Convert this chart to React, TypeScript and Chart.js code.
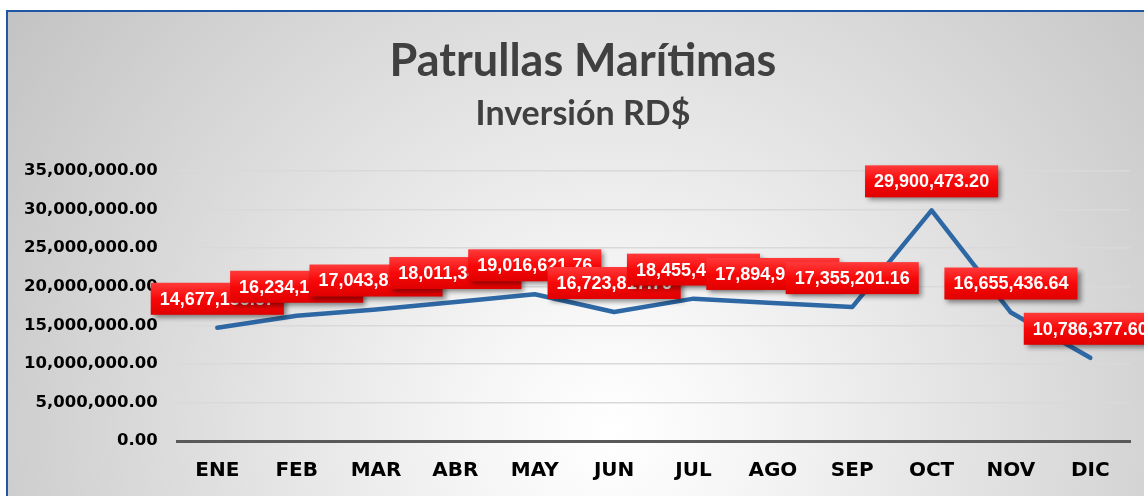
import React, { useEffect, useRef } from "react";
import { Chart, registerables } from "chart.js";

Chart.register(...registerables);

const months = ["ENE", "FEB", "MAR", "ABR", "MAY", "JUN", "JUL", "AGO", "SEP", "OCT", "NOV", "DIC"];
const inversion = [
  14677155.67, 16234150.32, 17043812.45, 18011345.2, 19016621.76, 16723817.76,
  18455410.88, 17894925.4, 17355201.16, 29900473.2, 16655436.64, 10786377.6,
];
const titleText = "Patrullas Marítimas";
const subtitleText = "Inversión RD$";
const yMax = 35000000;
const yStep = 5000000;

const fmt = (v: number) =>
  v.toLocaleString("en-US", { minimumFractionDigits: 2, maximumFractionDigits: 2 });

const titlePlugin = {
  id: "customTitles",
  beforeDraw(chart: any) {
    const ctx = chart.ctx;
    ctx.save();
    ctx.fillStyle = "#404040";
    ctx.textAlign = "center";
    ctx.textBaseline = "middle";
    ctx.font = "bold 45px Lato";
    ctx.fillText(titleText, 583, 61);
    ctx.font = "bold 34px Lato";
    ctx.fillText(subtitleText, 583, 114);
    ctx.restore();
  },
};

const labelPlugin = {
  id: "redLabels",
  afterDatasetsDraw(chart: any) {
    const ctx = chart.ctx;
    const meta = chart.getDatasetMeta(0);
    ctx.save();
    ctx.font = "bold 18px 'Liberation Sans', Arial";
    meta.data.forEach((pt: any, i: number) => {
      const text = fmt(inversion[i]);
      const tw = ctx.measureText(text).width;
      const w = tw + 18;
      const h = 32;
      const x0 = pt.x - w / 2;
      const y1 = pt.y - 13;
      const y0 = y1 - h;
      const g = ctx.createLinearGradient(0, y0, 0, y1);
      g.addColorStop(0, "#ff3a3a");
      g.addColorStop(0.5, "#f80808");
      g.addColorStop(1, "#e00000");
      ctx.save();
      ctx.shadowColor = "rgba(0,0,0,0.45)";
      ctx.shadowBlur = 5;
      ctx.shadowOffsetX = 3;
      ctx.shadowOffsetY = 3;
      ctx.fillStyle = g;
      ctx.fillRect(x0, y0, w, h);
      ctx.restore();
      ctx.fillStyle = "#ffffff";
      ctx.textAlign = "center";
      ctx.textBaseline = "middle";
      ctx.fillText(text, pt.x, y0 + h / 2 + 1);
    });
    ctx.restore();
  },
};

export default function App() {
  const ref = useRef<HTMLCanvasElement | null>(null);
  useEffect(() => {
    if (!ref.current) return;
    const chart = new Chart(ref.current, {
      type: "line",
      data: {
        labels: months,
        datasets: [
          {
            data: inversion,
            borderColor: "#2e68a4",
            borderWidth: 4.5,
            borderCapStyle: "round",
            borderJoinStyle: "round",
            pointRadius: 0,
            tension: 0,
            fill: false,
          },
        ],
      },
      options: {
        animation: false,
        responsive: true,
        maintainAspectRatio: false,
        layout: { padding: { left: 4, right: 14, top: 171, bottom: -5 } },
        plugins: {
          legend: { display: false },
          title: { display: false },
          tooltip: { enabled: false },
        },
        scales: {
          x: {
            offset: true,
            grid: { display: false, drawTicks: false },
            border: { display: true, color: "#595959", width: 3 },
            ticks: {
              color: "#000000",
              padding: 18,
              font: { family: "'DejaVu Sans'", weight: "bold", size: 20 },
            },
          },
          y: {
            min: 0,
            max: yMax,
            grid: { color: "#d9d9d9", lineWidth: 1.5, drawTicks: false },
            border: { display: false },
            ticks: {
              stepSize: yStep,
              color: "#000000",
              padding: 20,
              font: { family: "'DejaVu Sans'", weight: "bold", size: 16.5 },
              callback: (v: any) => fmt(Number(v)),
            },
          },
        },
      },
      plugins: [titlePlugin, labelPlugin],
    });
    return () => chart.destroy();
  }, []);

  return (
    <div style={{ position: "fixed", left: 0, top: 0, width: 1144, height: 496, overflow: "hidden", background: "#ffffff" }}>
      <div
        style={{
          position: "absolute",
          left: 6,
          top: 10,
          width: 1160,
          height: 500,
          borderLeft: "2px solid #1f57a4",
          borderTop: "2px solid #1f57a4",
          background:
            "radial-gradient(circle farthest-corner at 52% 84%, #ffffff 0%, #f6f6f6 18%, #c3c3c3 100%)",
        }}
      />
      <div style={{ position: "absolute", left: 0, top: 0, width: 1144, height: 496 }}>
        <canvas ref={ref} />
      </div>
    </div>
  );
}
